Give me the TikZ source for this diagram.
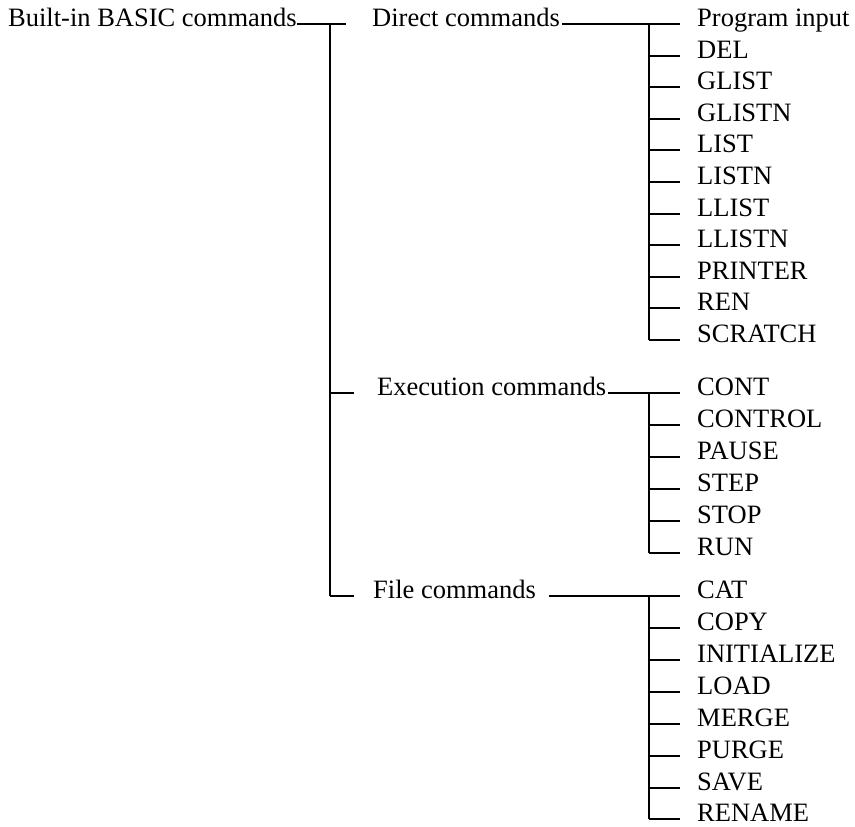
\documentclass[tikz,border=0pt]{standalone}
\usepackage{fontspec}
\setmainfont{Liberation Serif}
\usepackage{tikz}
\usetikzlibrary{
	positioning
}

\tikzset{
	cmd/.style={anchor=mid west, inner sep=0pt, font=\fontsize{26.5}{30}\selectfont},
	branch/.style={line width=2pt},
	tick/.style={shorten >=17pt},
}

\begin{document}
\begin{tikzpicture}[x=1pt,y=-1pt]
		\useasboundingbox (0,0) rectangle (855,827);

		% groups
		\draw
			node[cmd] (root)   at (8,24)    {Built-in BASIC commands}
			node[cmd] (direct) at (372,24)  {Direct commands}
			node[cmd] (exec)   at (377,393) {Execution commands}
			node[cmd] (file)   at (373,596) {File commands}
		;

		% direct commands
		\draw
			node[cmd] (pin)     at (697,24)  {Program input}
			node[cmd] (del)     at (697,56)  {DEL}
			node[cmd] (glist)   at (697,87)  {GLIST}
			node[cmd] (glistn)  at (697,119) {GLISTN}
			node[cmd] (list)    at (697,150) {LIST}
			node[cmd] (listn)   at (697,182) {LISTN}
			node[cmd] (llist)   at (697,214) {LLIST}
			node[cmd] (llistn)  at (697,245) {LLISTN}
			node[cmd] (printer) at (697,277) {PRINTER}
			node[cmd] (ren)     at (697,308) {REN}
			node[cmd] (scratch) at (697,340) {SCRATCH}
		;

		% execution commands
		\draw
			node[cmd] (cont)    at (697,393) {CONT}
			node[cmd] (control) at (697,425) {CONTROL}
			node[cmd] (pause)   at (697,457) {PAUSE}
			node[cmd] (stepc)   at (697,489) {STEP}
			node[cmd] (stop)    at (697,521) {STOP}
			node[cmd] (run)     at (697,553) {RUN}
		;

		% file commands
		\draw
			node[cmd] (cat)    at (697,596) {CAT}
			node[cmd] (copy)   at (697,628) {COPY}
			node[cmd] (init)   at (697,660) {INITIALIZE}
			node[cmd] (load)   at (697,692) {LOAD}
			node[cmd] (merge)  at (697,724) {MERGE}
			node[cmd] (purge)  at (697,756) {PURGE}
			node[cmd] (save)   at (697,788) {SAVE}
			node[cmd] (rename) at (697,819) {RENAME}
		;

		\coordinate (trunk)  at (330,24);
		\coordinate (dtrunk) at (649,24);
		\coordinate (etrunk) at (649,393);
		\coordinate (ftrunk) at (649,596);

		% top level
		\draw[branch]
			(trunk) -- (trunk |- file.mid west)
			(root.mid east) edge[shorten >=26pt] (direct.mid west)
			(trunk |- exec.mid west) edge[shorten >=23pt] (exec.mid west)
			(trunk |- file.mid west) edge[shorten >=19pt] (file.mid west)
		;

		% direct branch
		\draw[branch]
			(dtrunk) -- (dtrunk |- scratch.mid west)
			(direct.mid east) edge[shorten <=2pt, tick] (pin.mid west)
			(dtrunk |- del.mid west)     edge[tick] (del.mid west)
			(dtrunk |- glist.mid west)   edge[tick] (glist.mid west)
			(dtrunk |- glistn.mid west)  edge[tick] (glistn.mid west)
			(dtrunk |- list.mid west)    edge[tick] (list.mid west)
			(dtrunk |- listn.mid west)   edge[tick] (listn.mid west)
			(dtrunk |- llist.mid west)   edge[tick] (llist.mid west)
			(dtrunk |- llistn.mid west)  edge[tick] (llistn.mid west)
			(dtrunk |- printer.mid west) edge[tick] (printer.mid west)
			(dtrunk |- ren.mid west)     edge[tick] (ren.mid west)
			(dtrunk |- scratch.mid west) edge[tick] (scratch.mid west)
		;

		% execution branch
		\draw[branch]
			(etrunk) -- (etrunk |- run.mid west)
			(exec.mid east) edge[shorten <=2pt, tick] (cont.mid west)
			(etrunk |- control.mid west) edge[tick] (control.mid west)
			(etrunk |- pause.mid west)   edge[tick] (pause.mid west)
			(etrunk |- stepc.mid west)   edge[tick] (stepc.mid west)
			(etrunk |- stop.mid west)    edge[tick] (stop.mid west)
			(etrunk |- run.mid west)     edge[tick] (run.mid west)
		;

		% file branch
		\draw[branch]
			(ftrunk) -- (ftrunk |- rename.mid west)
			(file.mid east) edge[shorten <=13pt, tick] (cat.mid west)
			(ftrunk |- copy.mid west)   edge[tick] (copy.mid west)
			(ftrunk |- init.mid west)   edge[tick] (init.mid west)
			(ftrunk |- load.mid west)   edge[tick] (load.mid west)
			(ftrunk |- merge.mid west)  edge[tick] (merge.mid west)
			(ftrunk |- purge.mid west)  edge[tick] (purge.mid west)
			(ftrunk |- save.mid west)   edge[tick] (save.mid west)
			(ftrunk |- rename.mid west) edge[tick] (rename.mid west)
		;
	\end{tikzpicture}
\end{document}
